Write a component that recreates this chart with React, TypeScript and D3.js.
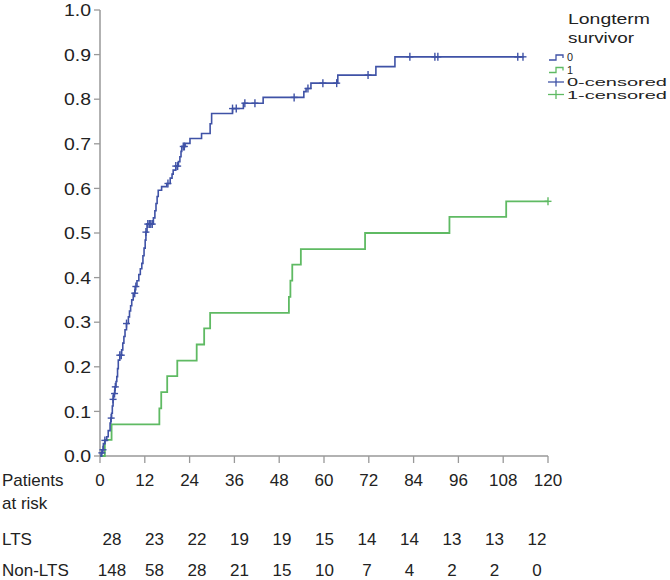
import React from "react";
import * as d3 from "d3";

// ---- Data ----
const xTicks = [0, 12, 24, 36, 48, 60, 72, 84, 96, 108, 120];
const yTicks = [0, 0.1, 0.2, 0.3, 0.4, 0.5, 0.6, 0.7, 0.8, 0.9, 1.0];

// Non-LTS (group 0) cumulative incidence events: [month, value after step]
const group0Events: [number, number][] = [
  [0.3, 0.007], [0.6, 0.014], [0.9, 0.028], [1.3, 0.035], [1.8, 0.043], [2.2, 0.057],
  [2.7, 0.074], [2.9, 0.085], [3.1, 0.096], [3.3, 0.112], [3.5, 0.127], [3.6, 0.14],
  [4.0, 0.155], [4.3, 0.167], [4.5, 0.178], [4.7, 0.196], [4.9, 0.215], [5.3, 0.226],
  [5.8, 0.238], [6.1, 0.253], [6.4, 0.268], [6.7, 0.283], [7.1, 0.297], [7.6, 0.312],
  [7.9, 0.325], [8.2, 0.337], [8.5, 0.35], [8.9, 0.365], [9.4, 0.38], [9.9, 0.393],
  [10.4, 0.407], [10.8, 0.42], [11.2, 0.432], [11.5, 0.449], [11.8, 0.466], [12.1, 0.484],
  [12.3, 0.502], [12.6, 0.52], [14.3, 0.534], [14.7, 0.55], [15.0, 0.566], [15.3, 0.582],
  [15.6, 0.596], [16.5, 0.604], [17.9, 0.611], [18.8, 0.623], [19.3, 0.632], [19.6, 0.641],
  [20.3, 0.65], [21.0, 0.66], [21.4, 0.671], [21.7, 0.683], [21.9, 0.694], [22.8, 0.701],
  [24.1, 0.712], [27.2, 0.723], [29.5, 0.745], [29.9, 0.768], [35.5, 0.779], [38.4, 0.791],
  [43.7, 0.804], [54.6, 0.817], [55.2, 0.824], [56.5, 0.836], [63.7, 0.854], [73.9, 0.873],
  [79.0, 0.895],
];
const group0End = 113.5;
const group0Censored = [
  0.5, 0.8, 1.3, 3.0, 3.5, 3.9, 4.1, 5.3, 5.7, 7.1, 9.3, 9.6, 12.3, 12.8, 13.2, 13.6, 14.0,
  18.2, 20.3, 20.8, 22.3, 22.6, 35.5, 36.5, 38.8, 41.5, 52.0, 55.7, 59.7, 63.4, 71.8, 83.0,
  89.7, 90.5, 111.9, 113.3,
];

// LTS (group 1) events
const group1Events: [number, number][] = [
  [1.3, 0.036], [3.1, 0.071], [15.9, 0.107], [16.4, 0.143], [18.0, 0.179], [20.7, 0.214],
  [25.9, 0.25], [27.9, 0.286], [29.5, 0.321], [50.6, 0.357], [51.0, 0.393], [51.5, 0.429],
  [53.8, 0.464], [71.0, 0.5], [93.6, 0.536], [108.8, 0.571],
];
const group1End = 120;
const group1Censored = [120];

const riskLabels = ["LTS", "Non-LTS"];
const riskLTS = [28, 23, 22, 19, 19, 15, 14, 14, 13, 13, 12];
const riskNonLTS = [148, 58, 28, 21, 15, 10, 7, 4, 2, 2, 0];

const legendTitle = ["Longterm", "survivor"];
const legendItems = ["0", "1", "0-censored", "1-censored"];

const BLUE = "#3f52a6";
const GREEN = "#5fba63";
const AXIS = "#999999";
const TEXT = "#222222";
const FONT = "'Liberation Sans', Arial, sans-serif";

function valueAt(events: [number, number][], t: number) {
  let v = 0;
  for (const [et, ev] of events) if (et <= t) v = ev;
  return v;
}

export default function App() {
  const x = d3.scaleLinear().domain([0, 120]).range([100, 548]);
  const y = d3.scaleLinear().domain([0, 1]).range([456, 10]);
  const tableX = d3.scalePoint<number>().domain(d3.range(11)).range([112, 537]);

  const line = d3
    .line<[number, number]>()
    .x((d) => x(d[0]))
    .y((d) => y(d[1]))
    .curve(d3.curveStepAfter);

  const pts0: [number, number][] = [[0, 0], ...group0Events, [group0End, valueAt(group0Events, group0End)]];
  const pts1: [number, number][] = [[0, 0], ...group1Events, [group1End, valueAt(group1Events, group1End)]];

  const cross = (cx: number, cy: number, color: string, key: string) => (
    <g key={key} stroke={color} strokeWidth={1.4}>
      <line x1={cx - 3.5} x2={cx + 3.5} y1={cy} y2={cy} />
      <line x1={cx} x2={cx} y1={cy - 4} y2={cy + 4} />
    </g>
  );

  return (
    <svg
      width={670}
      height={580}
      style={{ position: "absolute", left: 0, top: 0, background: "#fff" }}
      fontFamily={FONT}
    >
      {/* axes */}
      <line x1={x(0)} x2={x(0)} y1={y(1)} y2={y(0)} stroke={AXIS} strokeWidth={1.5} />
      <line x1={x(0)} x2={x(120)} y1={y(0)} y2={y(0)} stroke={AXIS} strokeWidth={1.5} />
      {yTicks.map((t) => (
        <g key={"y" + t}>
          <line x1={x(0) - 6} x2={x(0)} y1={y(t)} y2={y(t)} stroke={AXIS} strokeWidth={1.3} />
          <text
            x={91}
            y={y(t)}
            dy="0.36em"
            textAnchor="end"
            fontSize={17}
            fill={TEXT}
            textLength={27}
            lengthAdjust="spacingAndGlyphs"
          >
            {t.toFixed(1)}
          </text>
        </g>
      ))}
      {xTicks.map((t) => (
        <g key={"x" + t}>
          <line x1={x(t)} x2={x(t)} y1={y(0)} y2={y(0) + 7} stroke={AXIS} strokeWidth={1.3} />
          <text x={x(t)} y={486} textAnchor="middle" fontSize={17} fill={TEXT}>
            {t}
          </text>
        </g>
      ))}

      {/* curves */}
      <path d={line(pts1) || ""} fill="none" stroke={GREEN} strokeWidth={1.8} />
      <path d={line(pts0) || ""} fill="none" stroke={BLUE} strokeWidth={1.6} />
      {group1Censored.map((t, i) => cross(x(t), y(valueAt(group1Events, t)), GREEN, "c1" + i))}
      {group0Censored.map((t, i) => cross(x(t), y(valueAt(group0Events, t)), BLUE, "c0" + i))}

      {/* at-risk table */}
      <text x={2} y={486} fontSize={17} fill={TEXT}>Patients</text>
      <text x={2} y={509} fontSize={17} fill={TEXT}>at risk</text>
      <text x={2} y={545} fontSize={17} fill={TEXT}>{riskLabels[0]}</text>
      <text x={2} y={576} fontSize={17} fill={TEXT}>{riskLabels[1]}</text>
      {riskLTS.map((n, i) => (
        <text key={"l" + i} x={tableX(i)} y={545} textAnchor="middle" fontSize={17} fill={TEXT}>
          {n}
        </text>
      ))}
      {riskNonLTS.map((n, i) => (
        <text key={"n" + i} x={tableX(i)} y={576} textAnchor="middle" fontSize={17} fill={TEXT}>
          {n}
        </text>
      ))}

      {/* legend */}
      <g fill={TEXT}>
        <text x={568} y={24} fontSize={14} textLength={82} lengthAdjust="spacingAndGlyphs">{legendTitle[0]}</text>
        <text x={568} y={43} fontSize={14} textLength={66} lengthAdjust="spacingAndGlyphs">{legendTitle[1]}</text>
        {legendItems.map((s, i) => {
          const yy = 61 + i * 12.5;
          const color = i % 2 === 0 ? BLUE : GREEN;
          return (
            <g key={"lg" + i}>
              {i < 2 ? (
                <path
                  d={`M549,${yy - 1} H556 V${yy - 6} H563 V${yy - 3}`}
                  fill="none"
                  stroke={color}
                  strokeWidth={1.3}
                />
              ) : (
                <g stroke={color} strokeWidth={1.3}>
                  <line x1={548} x2={564} y1={yy - 4} y2={yy - 4} />
                  <line x1={556} x2={556} y1={yy - 8.5} y2={yy + 0.5} />
                </g>
              )}
              <text
                x={567}
                y={yy}
                fontSize={10.8}
                textLength={s.length > 1 ? 100 : undefined}
                lengthAdjust="spacingAndGlyphs"
              >
                {s}
              </text>
            </g>
          );
        })}
      </g>
    </svg>
  );
}
